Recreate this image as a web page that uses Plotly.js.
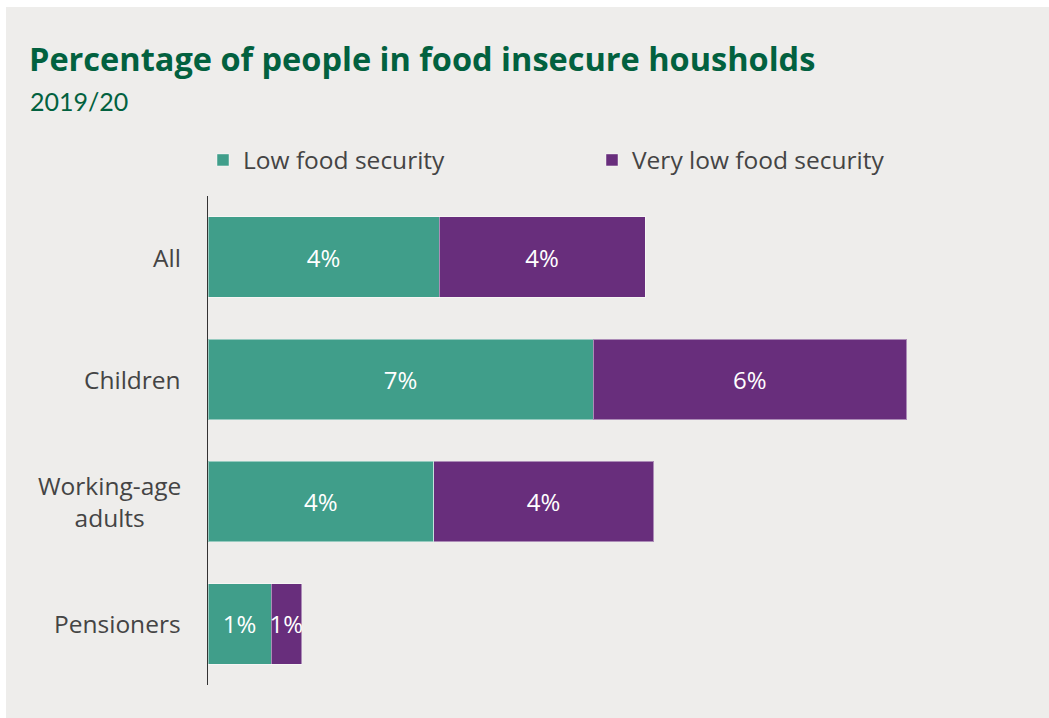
<!DOCTYPE html>
<html>
<head>
<meta charset="utf-8">
<script src="https://cdn.plot.ly/plotly-3.0.1.min.js"></script>
<style>
  html, body { margin: 0; padding: 0; background: #ffffff; }
  #chart { position: absolute; left: 6px; top: 7px; width: 1043px; height: 711px; }
</style>
</head>
<body>
<div id="chart"></div>
<script>
const categories = ["All", "Children", "Working-age<br>adults", "Pensioners"];
const lowFoodSecurity = [4.2, 7.0, 4.1, 1.15];
const veryLowFoodSecurity = [3.75, 5.7, 4.0, 0.55];
const seriesNames = ["Low food security", "Very low food security"];

const W = 1043, H = 711;
const plotLeft = 202, plotTop = 189, plotW = 770, plotH = 489;

const common = {
  type: "bar",
  orientation: "h",
  y: categories,
  texttemplate: "%{x:.0f}%",
  textposition: "inside",
  insidetextanchor: "middle",
  constraintext: "none",
  textangle: 0,
  textfont: { family: "Open Sans", size: 24, color: "#ffffff" },
  hoverinfo: "skip",
  cliponaxis: false
};

const traces = [
  Object.assign({}, common, {
    name: seriesNames[0],
    x: lowFoodSecurity,
    marker: { color: "#409e8a", line: { color: "rgba(255,255,255,0.45)", width: 1 } }
  }),
  Object.assign({}, common, {
    name: seriesNames[1],
    x: veryLowFoodSecurity,
    marker: { color: "#682e7c", line: { color: "rgba(255,255,255,0.45)", width: 1 } }
  })
];

const categoryLabels = categories.map(c => ({
  text: c,
  xref: "paper", yref: "y",
  x: (183 - 208) / plotW, xanchor: "right",
  y: c, yanchor: "middle",
  align: "center",
  showarrow: false,
  font: { family: "Open Sans", size: 24.5, color: "#444444" }
}));

const layout = {
  width: W,
  height: H,
  paper_bgcolor: "#eeedeb",
  plot_bgcolor: "#eeedeb",
  barmode: "stack",
  bargap: 0.34,
  margin: { l: plotLeft, t: plotTop, r: W - plotLeft - plotW, b: H - plotTop - plotH, pad: 0 },
  title: {
    text: "<b>Percentage of people in food insecure housholds</b>",
    font: { family: "Open Sans", size: 32.5, color: "#02613f" },
    xref: "container", yref: "container",
    x: 23 / W, xanchor: "left",
    y: 1 - 53 / H, yanchor: "middle"
  },
  annotations: [{
    text: "2019/20",
    xref: "paper", yref: "paper",
    x: (28 - 208) / plotW, xanchor: "left",
    y: (685 - 101) / plotH, yanchor: "middle",
    showarrow: false,
    font: { family: "Lato", size: 25, color: "#02613f" }
  }].concat(categoryLabels),
  showlegend: true,
  legend: {
    orientation: "h",
    x: (203 - 208) / plotW, xanchor: "left",
    y: (685 - 160) / plotH, yanchor: "middle",
    font: { family: "Open Sans", size: 24.5, color: "#444444" },
    entrywidth: 344, entrywidthmode: "pixels",
    itemwidth: 30,
    bgcolor: "rgba(0,0,0,0)",
    traceorder: "normal"
  },
  xaxis: {
    range: [0, 14],
    visible: false,
    showgrid: false,
    zeroline: false,
    fixedrange: true
  },
  yaxis: {
    autorange: "reversed",
    showline: true,
    linecolor: "#333333",
    linewidth: 1.5,
    ticks: "",
    showticklabels: false,
    showgrid: false,
    zeroline: false,
    fixedrange: true
  }
};

Plotly.newPlot("chart", traces, layout, { displayModeBar: false, staticPlot: true });
</script>
</body>
</html>
